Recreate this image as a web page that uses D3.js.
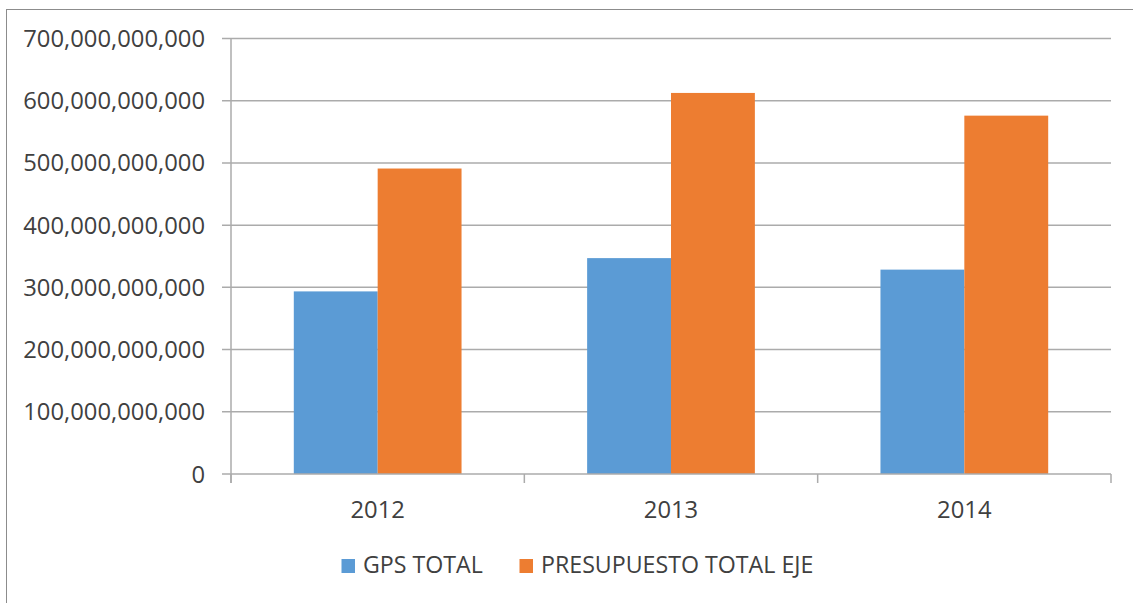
<!DOCTYPE html>
<html>
<head>
<meta charset="utf-8">
<script src="https://cdn.jsdelivr.net/npm/d3@7"></script>
<style>
  body { margin: 0; background: #fff; }
  svg { display: block; }
  text { font-family: "Open Sans", sans-serif; fill: #404040; }
</style>
</head>
<body>
<div id="chart"></div>
<script>
// <-- data -->
var years = ["2012", "2013", "2014"];
var series = ["GPS TOTAL", "PRESUPUESTO TOTAL EJE"];
var gpsTotal = [293.5e9, 347e9, 328.5e9];
var presupuestoTotal = [491e9, 612.5e9, 576e9];
var yTicks = [0, 100e9, 200e9, 300e9, 400e9, 500e9, 600e9, 700e9];
var colors = ["#5B9BD5", "#ED7D31"];

;(function(){
  var width = 1133, height = 603;
  var left = 231, right = 1111, top = 38.5, bottom = 474;

  var svg = d3.select("#chart").append("svg")
              .attr("width", width)
              .attr("height", height);

  // chart border (only top and left visible in the frame)
  svg.append("rect")
     .attr("x", 6.5).attr("y", 9.5)
     .attr("width", 1200).attr("height", 700)
     .attr("fill", "none")
     .attr("stroke", "#8c8c8c")
     .attr("stroke-width", 1);

  var x0 = d3.scaleBand().domain(years).range([left, right]);
  var bw = x0.bandwidth();
  var x1 = d3.scaleBand().domain(series).range([62.8, bw - 62.8]);
  var y = d3.scaleLinear().domain([0, 700e9]).range([bottom, top]);

  // gridlines
  svg.append("g")
     .selectAll("line")
     .data(yTicks.slice(1))
     .enter()
     .append("line")
     .attr("x1", left - 9).attr("x2", right)
     .attr("y1", function(d){ return y(d); })
     .attr("y2", function(d){ return y(d); })
     .attr("stroke", "#ababab")
     .attr("stroke-width", 1.5);

  // y labels
  var fmt = d3.format(",");
  svg.append("g")
     .selectAll("text")
     .data(yTicks)
     .enter()
     .append("text")
     .attr("x", 205)
     .attr("y", function(d){ return y(d) + 8.5; })
     .attr("text-anchor", "end")
     .style("font-size", "23.8px")
     .text(function(d){ return fmt(d); });

  // bars
  var rows = years.map(function(yr, i){
    return { year: yr, values: [gpsTotal[i], presupuestoTotal[i]] };
  });
  var groups = svg.append("g")
                  .selectAll("g")
                  .data(rows)
                  .enter()
                  .append("g")
                  .attr("transform", function(d){ return "translate(" + x0(d.year) + ",0)"; });
  groups.selectAll("rect")
        .data(function(d){ return d.values.map(function(v, j){ return { s: series[j], v: v, j: j }; }); })
        .enter()
        .append("rect")
        .attr("x", function(d){ return x1(d.s); })
        .attr("width", x1.bandwidth())
        .attr("y", function(d){ return y(d.v); })
        .attr("height", function(d){ return bottom - y(d.v); })
        .attr("fill", function(d){ return colors[d.j]; });

  // axes lines
  svg.append("line")
     .attr("x1", left).attr("x2", left)
     .attr("y1", top).attr("y2", bottom + 9)
     .attr("stroke", "#ababab").attr("stroke-width", 1.5);
  svg.append("line")
     .attr("x1", left - 9).attr("x2", right)
     .attr("y1", bottom).attr("y2", bottom)
     .attr("stroke", "#ababab").attr("stroke-width", 1.5);

  // category ticks
  var edges = years.map(function(yr){ return x0(yr); }).concat([right]);
  svg.append("g")
     .selectAll("line")
     .data(edges)
     .enter()
     .append("line")
     .attr("x1", function(d){ return d; }).attr("x2", function(d){ return d; })
     .attr("y1", bottom).attr("y2", bottom + 9)
     .attr("stroke", "#ababab").attr("stroke-width", 1.5);

  // year labels
  svg.append("g")
     .selectAll("text")
     .data(years)
     .enter()
     .append("text")
     .attr("x", function(d){ return x0(d) + bw / 2; })
     .attr("y", 518)
     .attr("text-anchor", "middle")
     .style("font-size", "23.8px")
     .text(function(d){ return d; });

  // legend
  var legendX = [341.5, 519.5];
  var legend = svg.append("g")
                  .selectAll("g")
                  .data(series)
                  .enter()
                  .append("g")
                  .attr("transform", function(d, i){ return "translate(" + legendX[i] + ",0)"; });
  legend.append("rect")
        .attr("x", 0).attr("y", 559)
        .attr("width", 13.5).attr("height", 14)
        .attr("fill", function(d, i){ return colors[i]; });
  legend.append("text")
        .attr("x", 21.5)
        .attr("y", 573)
        .style("font-size", "23.2px")
        .text(function(d){ return d; });
})();
</script>
</body>
</html>
